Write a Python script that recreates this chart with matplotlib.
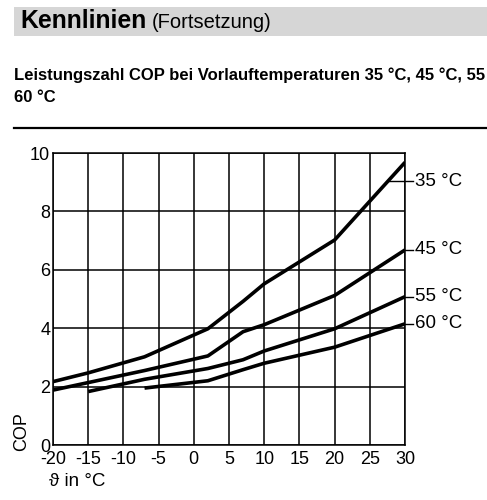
import matplotlib
matplotlib.use("Agg")
import matplotlib.pyplot as plt
from matplotlib.patches import Rectangle
from matplotlib.lines import Line2D

plt.rcParams['font.family'] = ['Liberation Sans', 'DejaVu Sans']
plt.rcParams['axes.unicode_minus'] = False

# ---------------------------------------------------------------------------
# Data
# ---------------------------------------------------------------------------
temp_35 = [-20, -15, -7, 2, 7, 10, 20, 30]
cop_35 = [2.17, 2.47, 3.02, 3.98, 4.92, 5.52, 7.02, 9.68]

temp_45 = [-20, -7, 2, 7, 10, 20, 30]
cop_45 = [1.88, 2.55, 3.05, 3.88, 4.12, 5.12, 6.68]

temp_55 = [-15, -7, 2, 7, 10, 20, 30]
cop_55 = [1.83, 2.25, 2.62, 2.92, 3.22, 3.98, 5.08]

temp_60 = [-7, 2, 7, 10, 20, 30]
cop_60 = [1.95, 2.2, 2.58, 2.8, 3.35, 4.15]

series_labels = ["35 °C", "45 °C", "55 °C", "60 °C"]
label_values = [9.04, 6.68, 5.08, 4.15]
label_start = [27.7, 30, 30, 30]

x_ticks = [-20, -15, -10, -5, 0, 5, 10, 15, 20, 25, 30]
y_ticks = [0, 2, 4, 6, 8, 10]

# ---------------------------------------------------------------------------
# Figure
# ---------------------------------------------------------------------------
fig = plt.figure(figsize=(4.87, 5.0), dpi=100)

# header band
fig.patches.append(Rectangle((14 / 487, 1 - 36 / 500), 1 - 14 / 487, 29 / 500,
                             transform=fig.transFigure, facecolor="#d6d6d6",
                             edgecolor="none", zorder=0))
fig.text(20 / 487, 1 - 21.5 / 500, "Kennlinien", fontsize=17.8, fontweight="bold",
         va="center", ha="left")
fig.text(152 / 487, 1 - 22 / 500, "(Fortsetzung)", fontsize=14.5,
         va="center", ha="left")

fig.text(14 / 487, 1 - 75 / 500,
         "Leistungszahl COP bei Vorlauftemperaturen 35 °C, 45 °C, 55",
         fontsize=12, fontweight="bold", va="center", ha="left")
fig.text(14 / 487, 1 - 97 / 500, "60 °C", fontsize=12, fontweight="bold",
         va="center", ha="left")

fig.lines.append(Line2D([14 / 487, 1], [1 - 128 / 500, 1 - 128 / 500],
                        transform=fig.transFigure, color="black", lw=1.6))

ax = fig.add_axes([53 / 487, 55 / 500, 352 / 487, 292 / 500])

for t, c in [(temp_35, cop_35), (temp_45, cop_45), (temp_55, cop_55), (temp_60, cop_60)]:
    ax.plot(t, c, color="black", lw=2.6, solid_capstyle="butt", zorder=3)

ax.set_xlim(-20, 30)
ax.set_ylim(0, 10)
ax.set_xticks(x_ticks)
ax.set_yticks(y_ticks)
ax.tick_params(length=0, labelsize=13)
ax.tick_params(axis="x", pad=4)
ax.tick_params(axis="y", pad=2)
ax.grid(True, color="black", lw=1.1)
for sp in ax.spines.values():
    sp.set_linewidth(1.1)

# curve labels with leader lines
for lab, val, x0 in zip(series_labels, label_values, label_start):
    ax.plot([x0, 31.1], [val, val], color="black", lw=1.0, clip_on=False)
    ax.text(31.4, val, lab, fontsize=13.5, va="center", ha="left")

fig.text(22 / 487, 1 - 432 / 500, "COP", rotation=90, fontsize=13,
         ha="center", va="center")
fig.text(49 / 487, 1 - 482 / 500, "ϑ in °C", fontsize=13.5, va="center", ha="left")

fig.savefig("out.png", dpi=100)
